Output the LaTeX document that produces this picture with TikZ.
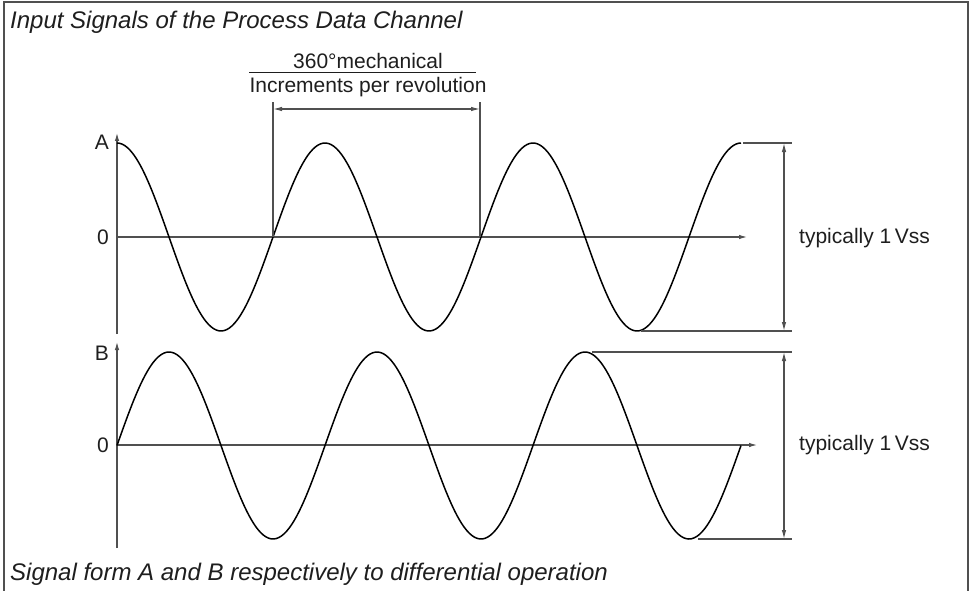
\documentclass[tikz,border=0pt]{standalone}
\usepackage{fontspec}
\setmainfont{Liberation Sans}
\usetikzlibrary{arrows.meta}
\definecolor{axisgray}{HTML}{505050}
\definecolor{txt}{HTML}{1E1E1E}
\tikzset{
  axisline/.style={draw=axisgray, line width=1.1pt},
  axisarrow/.style={axisline, -{Latex[length=8pt,width=4.5pt]}},
  dimline/.style={draw=axisgray, line width=1.1pt},
  dimarrow/.style={dimline, {Latex[length=9pt,width=4.5pt]}-{Latex[length=9pt,width=4.5pt]}},
  wave/.style={draw=black, line width=1.5pt},
  lbl/.style={text=txt, font=\fontsize{21}{25}\selectfont, inner sep=0pt},
  captext/.style={text=txt, font=\fontsize{24}{28}\selectfont\itshape, inner sep=0pt, anchor=base west},
}
\begin{document}
\begin{tikzpicture}[x=1pt,y=-1pt]
\useasboundingbox (0,0) rectangle (974,591);
% frame (open at bottom)
\draw[draw=axisgray, line width=1.5pt] (4,600) -- (4,2) -- (968,2) -- (968,600);
% titles
\node[captext] (title) at (10,29) {Input Signals of the Process Data Channel};
\node[captext] (caption) at (10,580) {Signal form A and B respectively to differential operation};

% ---------- A channel ----------
\coordinate (Aorg) at (117,237);
\coordinate (Atop) at (117,133);
\coordinate (Abot) at (117,334);
\coordinate (Aend) at (747,237);
\draw[axisline] (Abot) -- (Aorg);
\draw[axisarrow] (Aorg) -- (Atop);
\draw[axisarrow] (Aorg) -- (Aend);
\node[lbl, anchor=east] (Alab) at (109,142) {A};
\node[lbl, anchor=east] (A0) at (109,237) {0};
\draw[wave] plot[domain=117:741, samples=240, smooth] (\x, {237-94*cos((\x-117)/208*360)});

% period dimension
\coordinate (p1) at (273,237);
\coordinate (p2) at (480,237);
\coordinate (p1t) at (273,102);
\coordinate (p2t) at (480,102);
\draw[dimline] (p1) -- (p1t);
\draw[dimline] (p2) -- (p2t);
\draw[dimarrow] (273,109) -- (480,109);
\node[lbl] (num) at (368,61) {360°mechanical};
\draw[draw=txt, line width=1pt] (249,73) -- (476,73);
\node[lbl] (den) at (368,87) {Increments per revolution};

% A amplitude dimension
\coordinate (Ahi) at (743,143);
\coordinate (Ahiend) at (792,143);
\coordinate (Alo) at (641,331);
\coordinate (Aloend) at (792,331);
\draw[dimline] (Ahi) -- (Ahiend);
\draw[dimline] (Alo) -- (Aloend);
\draw[dimarrow] (784,143) -- (784,331);
\node[lbl, anchor=west] (Atyp) at (799,238) {typically 1\,Vss};

% ---------- B channel ----------
\coordinate (Borg) at (117,445);
\coordinate (Btop) at (117,342);
\coordinate (Bbot) at (117,548);
\coordinate (Bend) at (757,445);
\draw[axisline] (Bbot) -- (Borg);
\draw[axisarrow] (Borg) -- (Btop);
\draw[axisarrow] (Borg) -- (Bend);
\node[lbl, anchor=east] (Blab) at (109,353) {B};
\node[lbl, anchor=east] (B0) at (109,445) {0};
\draw[wave] plot[domain=117:741, samples=240, smooth] (\x, {445.5-93.5*sin((\x-117)/208*360)});

% B amplitude dimension
\coordinate (Bhi) at (592,352);
\coordinate (Bhiend) at (792,352);
\coordinate (Blo) at (698,539);
\coordinate (Bloend) at (792,539);
\draw[dimline] (Bhi) -- (Bhiend);
\draw[dimline] (Blo) -- (Bloend);
\draw[dimarrow] (784,352) -- (784,539);
\node[lbl, anchor=west] (Btyp) at (799,445) {typically 1\,Vss};
\end{tikzpicture}
\end{document}
